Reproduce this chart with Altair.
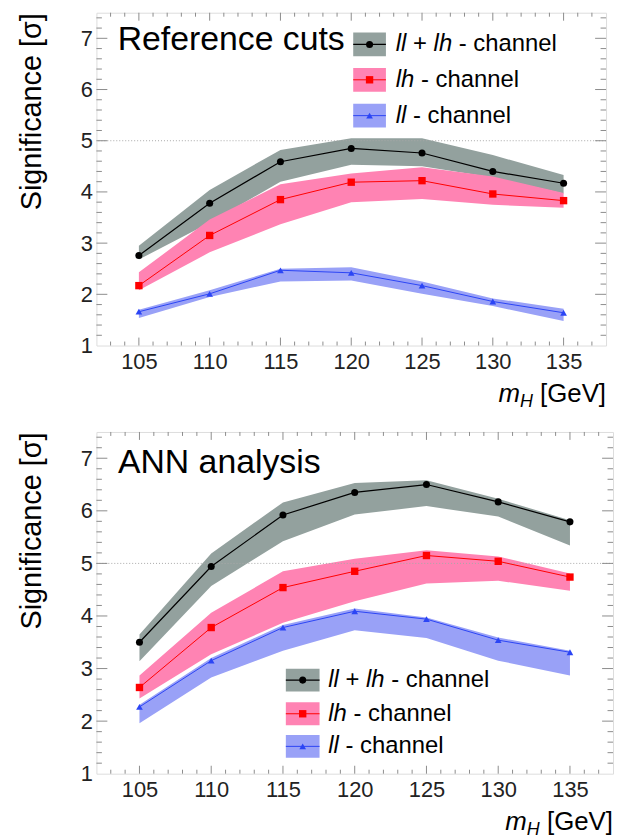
import altair as alt
import pandas as pd

FONT = "Liberation Sans"

mass = [105, 110, 115, 120, 125, 130, 135]

# ---- Reference cuts (top panel) ----
ref_comb = [2.76, 3.78, 4.59, 4.85, 4.76, 4.40, 4.17]
ref_comb_hi = [2.95, 4.04, 4.82, 5.05, 5.05, 4.72, 4.33]
ref_comb_lo = [2.68, 3.40, 4.20, 4.53, 4.50, 4.28, 3.97]
ref_lh = [2.17, 3.15, 3.85, 4.19, 4.22, 3.96, 3.83]
ref_lh_hi = [2.43, 3.46, 4.15, 4.36, 4.48, 4.30, 3.98]
ref_lh_lo = [2.08, 2.82, 3.37, 3.80, 3.86, 3.75, 3.69]
ref_ll = [1.66, 2.01, 2.47, 2.42, 2.17, 1.86, 1.64]
ref_ll_hi = [1.70, 2.08, 2.50, 2.53, 2.25, 1.92, 1.72]
ref_ll_lo = [1.54, 1.95, 2.25, 2.27, 2.01, 1.77, 1.48]

# ---- ANN analysis (bottom panel) ----
ann_comb = [3.50, 4.94, 5.92, 6.35, 6.50, 6.17, 5.79]
ann_comb_hi = [3.65, 5.19, 6.16, 6.53, 6.58, 6.23, 5.82]
ann_comb_lo = [3.14, 4.57, 5.42, 5.93, 6.09, 5.89, 5.34]
ann_lh = [2.64, 3.78, 4.54, 4.85, 5.15, 5.04, 4.74]
ann_lh_hi = [2.87, 4.06, 4.85, 5.09, 5.25, 5.13, 4.81]
ann_lh_lo = [2.43, 3.27, 3.87, 4.28, 4.62, 4.67, 4.48]
ann_ll = [2.27, 3.15, 3.78, 4.09, 3.94, 3.54, 3.31]
ann_ll_hi = [2.31, 3.20, 3.83, 4.14, 3.97, 3.59, 3.34]
ann_ll_lo = [1.96, 2.83, 3.34, 3.73, 3.58, 3.15, 2.87]

x_labels = [105, 110, 115, 120, 125, 130, 135]
y_labels = [1, 2, 3, 4, 5, 6, 7]
x_major = [105, 110, 115, 120, 125, 130, 135]
x_minor = [v for v in range(103, 138) if v % 5 != 0]
y_major = [2, 3, 4, 5, 6, 7]
y_minor = [round(1 + 0.2 * k, 1) for k in range(1, 33) if k % 5 != 0]

label_segments = [
    [("ll", True), (" + ", False), ("lh", True), (" - channel", False)],
    [("lh", True), (" - channel", False)],
    [("ll", True), (" - channel", False)],
]

STYLES = [
    dict(band="#93a19e", line="#000000", shape="circle", size=50, sw=1.2),
    dict(band="#ff83b3", line="#ff0000", shape="square", size=55, sw=1.0),
    dict(band="#99a1f7", line="#2b45f5", shape="triangle-up", size=45, sw=1.0),
]
FRAME = "#8c8c8c"

CW = {' ': 278, '+': 584, '-': 333, 'l': 222, 'h': 556, 'c': 500, 'a': 556,
      'n': 556, 'e': 556, 'm': 833, 'H': 722, '[': 278, ']': 278, 'G': 778, 'V': 667}


def text_w(s, fs):
    return sum(CW.get(c, 556) for c in s) / 1000.0 * fs


def panel(title, title_x, title_y, series, W, H, leg):
    xs = alt.Scale(domain=[102, 138], nice=False, zero=False)
    ys = alt.Scale(domain=[1, 7.5], nice=False, zero=False)
    xaxis = alt.Axis(values=x_labels, ticks=False, domain=False, grid=False, labelFontSize=22,
                     labelPadding=6, title=None, labelFont=FONT, labelColor="#222", labelFlush=False)
    yaxis = alt.Axis(values=y_labels, ticks=False, domain=False, grid=False, labelFontSize=22,
                     labelPadding=4, labelFont=FONT, labelColor="#222", labelFlush=False,
                     title="Significance [σ]", titleFontSize=29, titleFontWeight="normal",
                     titleAnchor="end", titlePadding=34, titleFont=FONT, titleColor="#000")

    def X(f):
        return alt.X(f, scale=xs, axis=xaxis)

    def Y(f):
        return alt.Y(f, scale=ys, axis=yaxis)

    layers = []
    dfs = []
    for i, (v, lo, hi) in enumerate(series):
        df = pd.DataFrame({"mass": mass, "val": v, "lo": lo, "hi": hi})
        dfs.append(df)
        layers.append(
            alt.Chart(df).mark_area(color=STYLES[i]["band"], opacity=1).encode(
                x=X("mass:Q"), y=Y("lo:Q"), y2="hi:Q"))
    layers.append(
        alt.Chart(pd.DataFrame({"y": [5]})).mark_rule(color="#a8a8a8", strokeDash=[1, 2], strokeWidth=1)
        .encode(y=Y("y:Q")))
    for i, df in enumerate(dfs):
        st = STYLES[i]
        layers.append(alt.Chart(df).mark_line(color=st["line"], strokeWidth=st["sw"]).encode(
            x=X("mass:Q"), y=Y("val:Q")))
        layers.append(alt.Chart(df).mark_point(shape=st["shape"], filled=True, opacity=1,
                                               color=st["line"], size=st["size"]).encode(
            x=X("mass:Q"), y=Y("val:Q")))

    # frame ticks (inward)
    def xt(vals, y0, y1):
        return alt.Chart(pd.DataFrame({"t": vals})).mark_rule(color=FRAME, strokeWidth=1).encode(
            x=X("t:Q"), y=alt.value(y0), y2=alt.value(y1))

    def yt(vals, x0, x1):
        return alt.Chart(pd.DataFrame({"t": vals})).mark_rule(color=FRAME, strokeWidth=1).encode(
            y=Y("t:Q"), x=alt.value(x0), x2=alt.value(x1))
    layers += [xt(x_major, H, H - 8), xt(x_minor, H, H - 4), xt(x_major, 0, 8), xt(x_minor, 0, 4),
               yt(y_major, 0, 11), yt(y_minor, 0, 5.5), yt(y_major, W, W - 11), yt(y_minor, W, W - 5.5)]
    # panel title
    layers.append(alt.Chart(pd.DataFrame({"x": [title_x], "y": [title_y]})).mark_text(
        text=title, align="left", baseline="alphabetic", fontSize=34, font=FONT, color="#000")
        .encode(x=X("x:Q"), y=Y("y:Q")))
    # legend
    x0, x1, xtx, rows, half = leg
    for i, yc in enumerate(rows):
        st = STYLES[i]
        ldf = pd.DataFrame({"x0": [x0], "x1": [x1], "xm": [(x0 + x1) / 2], "yc": [yc],
                            "ylo": [yc - half], "yhi": [yc + half], "xt": [xtx]})
        layers.append(alt.Chart(ldf).mark_rect(color=st["band"]).encode(
            x=X("x0:Q"), x2="x1:Q", y=Y("ylo:Q"), y2="yhi:Q"))
        layers.append(alt.Chart(ldf).mark_rule(color=st["line"], strokeWidth=st["sw"]).encode(
            x=X("x0:Q"), x2="x1:Q", y=Y("yc:Q")))
        layers.append(alt.Chart(ldf).mark_point(shape=st["shape"], filled=True, opacity=1,
                                                color=st["line"], size=st["size"]).encode(
            x=X("xm:Q"), y=Y("yc:Q")))
        cum = 0.0
        fs = 24
        for s, it in label_segments[i]:
            lead = len(s) - len(s.lstrip())
            dx = cum + text_w(s[:lead], fs)
            layers.append(alt.Chart(ldf).mark_text(
                text=s.strip(), align="left", baseline="middle", fontSize=fs, font=FONT,
                fontStyle="italic" if it else "normal", dx=dx, color="#000")
                .encode(x=X("xt:Q"), y=Y("yc:Q")))
            cum += text_w(s, fs)
    # x title: m_H [GeV]
    fs = 26
    wg = text_w("[GeV]", fs)
    wsp = text_w(" ", fs)
    wH = text_w("H", 18)
    tdf = pd.DataFrame({"x": [138]})
    base_y = H + 57
    layers.append(alt.Chart(tdf).mark_text(text="[GeV]", align="right", baseline="alphabetic",
                                           fontSize=fs, font=FONT, color="#000").encode(
        x=X("x:Q"), y=alt.value(base_y)))
    layers.append(alt.Chart(tdf).mark_text(text="H", align="right", baseline="alphabetic",
                                           fontSize=18, font=FONT, fontStyle="italic", color="#000",
                                           dx=-(wg + wsp), dy=5).encode(
        x=X("x:Q"), y=alt.value(base_y)))
    layers.append(alt.Chart(tdf).mark_text(text="m", align="right", baseline="alphabetic",
                                           fontSize=fs, font=FONT, fontStyle="italic", color="#000",
                                           dx=-(wg + wsp + wH)).encode(
        x=X("x:Q"), y=alt.value(base_y)))
    return alt.layer(*layers).properties(width=W, height=H)


top = panel("Reference cuts", 103.5, 6.78,
            [(ref_comb, ref_comb_lo, ref_comb_hi), (ref_lh, ref_lh_lo, ref_lh_hi), (ref_ll, ref_ll_lo, ref_ll_hi)],
            513, 335, (120.14, 122.45, 123.15, [6.88, 6.19, 5.49], 0.232))
bottom = panel("ANN analysis", 103.5, 6.72,
               [(ann_comb, ann_comb_lo, ann_comb_hi), (ann_lh, ann_lh_lo, ann_lh_hi), (ann_ll, ann_ll_lo, ann_ll_hi)],
               520, 344, (115.2, 117.55, 118.16, [2.78, 2.14, 1.52], 0.217))

chart = alt.vconcat(top, bottom, spacing=19).properties(
    padding={"left": 9, "top": 1, "right": 0, "bottom": 0}
).configure_view(stroke=FRAME, strokeWidth=1).configure(font=FONT)

chart.save("out.html", embed_options={"renderer": "svg", "actions": False})
